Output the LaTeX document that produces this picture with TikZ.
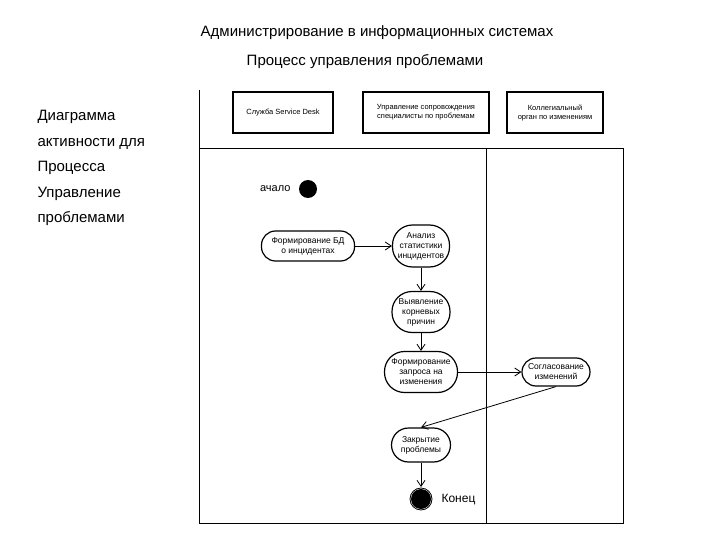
\documentclass[tikz,border=0pt]{standalone}
\usepackage{fontspec}
\setmainfont{Liberation Sans}
\usetikzlibrary{arrows.meta}
\begin{document}
\begin{tikzpicture}[x=1pt,y=-1pt,
 act/.style={draw,line width=1.2pt,rounded corners=14pt,align=center,font=\fontsize{8.5}{10}\selectfont,inner sep=1pt},
 hdr/.style={draw,line width=1.2pt,align=center,font=\fontsize{7.5}{9}\selectfont},
 arr/.style={line width=0.8pt,-{Straight Barb[length=6pt,width=8pt]}},
 big/.style={font=\fontsize{15}{17}\selectfont}]
\useasboundingbox (0,0) rectangle (720,540);
\node[big] (t1) at (377,33) {Администрирование в информационных системах};
\node[big] (t2) at (365,62) {Процесс управления проблемами};
\node[big,anchor=north west,align=left,font=\fontsize{15}{25.5}\selectfont] (lt) at (34,107) {Диаграмма\\активности для\\Процесса\\Управление\\проблемами};
\draw (199,90) -- (199,148);
\draw[line width=0.8pt] (199,148) rectangle (623,523);
\draw[line width=0.8pt] (486,148) -- (486,523);
\node[hdr,minimum width=100pt,minimum height=41pt] (h1) at (283,112.5) {Служба Service Desk};
\node[hdr,minimum width=126pt,minimum height=41pt] (h2) at (426,112.5) {Управление сопровождения\\специалисты по проблемам};
\node[hdr,minimum width=96pt,minimum height=41pt] (h3) at (555,112.5) {Коллегиальный\\орган по изменениям};
\fill (308,189) circle (9) coordinate (s);
\node[font=\fontsize{11}{13}\selectfont,anchor=east] (sl) at (294,189) {ачало};
\node[act,minimum width=93pt,minimum height=30pt] (a1) at (308,246) {Формирование БД\\о инцидентах};
\node[act,minimum width=57pt,minimum height=42pt,rounded corners=20pt] (a2) at (421,246) {Анализ\\статистики\\инцидентов};
\node[act,minimum width=58pt,minimum height=41pt,rounded corners=20pt] (a3) at (421,312) {Выявление\\корневых\\причин};
\node[act,minimum width=73pt,minimum height=41pt,rounded corners=20pt] (a4) at (421,372) {Формирование\\запроса на\\изменения};
\node[act,minimum width=68pt,minimum height=28pt] (a5) at (556,372) {Согласование\\изменений};
\node[act,minimum width=59pt,minimum height=34pt,rounded corners=17pt] (a6) at (421,445) {Закрытие\\проблемы};
\fill (421,499) circle (10) coordinate (e);
\draw[thick] (421,499) circle (11);
\node[font=\fontsize{12}{14}\selectfont,anchor=west] (el) at (438,500) {Конец};
\draw[arr] (a1) -- (a2);
\draw[arr] (a2) -- (a3);
\draw[arr] (a3) -- (a4);
\draw[arr] (a4) -- (a5);
\draw[arr] (a5.south) -- (a6.north);
\draw[arr] (a6) -- (421,487);
\end{tikzpicture}
\end{document}
